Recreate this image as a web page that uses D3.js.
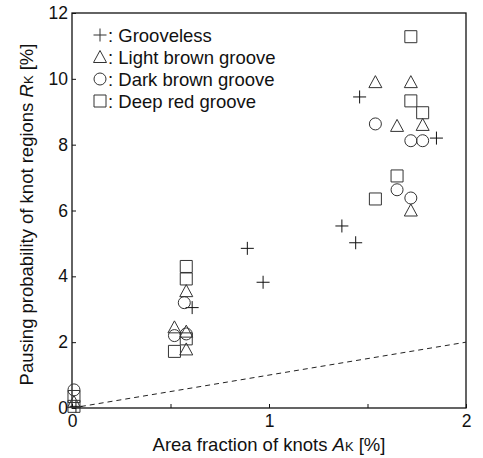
<!DOCTYPE html>
<html>
<head>
<meta charset="utf-8">
<script src="https://cdn.jsdelivr.net/npm/d3@7"></script>
<style>
  body { margin: 0; background: #fff; }
  svg { display: block; font-family: "Liberation Sans", Arial, sans-serif; }
</style>
</head>
<body>
<svg id="chart"></svg>
<script>
// data: [area fraction A_K %, pausing probability R_K %]
const grooveless = [[0.02, 0.05], [0.61, 3.05], [0.89, 4.85], [0.97, 3.82], [1.37, 5.53], [1.44, 5.02], [1.46, 9.45], [1.85, 8.2]];
const lightBrown = [[0.01, 0.18], [0.52, 2.45], [0.58, 2.32], [0.58, 1.78], [0.58, 3.55], [1.54, 9.9], [1.72, 9.9], [1.65, 8.57], [1.78, 8.6], [1.72, 6.0]];
const darkBrown = [[0.01, 0.55], [0.52, 2.2], [0.58, 2.25], [0.57, 3.2], [1.54, 8.63], [1.72, 8.12], [1.78, 8.12], [1.65, 6.63], [1.72, 6.38]];
const deepRed = [[0.01, 0.35], [0.01, 0.05], [0.52, 1.72], [0.58, 2.1], [0.58, 3.92], [0.58, 4.3], [1.72, 11.28], [1.72, 9.33], [1.78, 8.97], [1.65, 7.05], [1.54, 6.35]];
const refLine = [[0, 0], [2, 2]];

const seriesNames = ['Grooveless', 'Light brown groove', 'Dark brown groove', 'Deep red groove'];
const seriesShapes = ['plus', 'triangle', 'circle', 'square'];
const xTicks = [0, 0.5, 1, 1.5, 2];
const yTicks = [0, 2, 4, 6, 8, 10, 12];

const w = 483, h = 458;
const margin = { top: 13, right: 17, bottom: 50, left: 72 };
const ink = '#222';
const labelSize = '18.5px';

const svg = d3.select('#chart').attr('width', w).attr('height', h);

const x = d3.scaleLinear().domain([0, 2]).range([margin.left, w - margin.right]);
const y = d3.scaleLinear().domain([0, 12]).range([h - margin.bottom, margin.top]);

// marker paths, centred on 0,0
const shapePath = {
  plus: 'M-6.5,0H6.5M0,-6.5V6.5',
  triangle: 'M0,-6.5L6.5,5.5H-6.5Z',
  circle: d3.arc()({ innerRadius: 0, outerRadius: 6, startAngle: 0, endAngle: 2 * Math.PI }),
  square: 'M-6,-6H6V6H-6Z'
};

// frame
svg.append('rect')
  .attr('x', x(0)).attr('y', y(12))
  .attr('width', x(2) - x(0)).attr('height', y(0) - y(12))
  .attr('fill', 'none').attr('stroke', '#111').attr('stroke-width', 1.3);

// axes with inward ticks
const xAxis = svg.append('g')
  .attr('transform', `translate(0, ${y(0)})`)
  .call(d3.axisBottom(x).tickValues(xTicks).tickSize(-4).tickPadding(4)
    .tickFormat(d => Number.isInteger(d) ? d : ''));

const yAxis = svg.append('g')
  .attr('transform', `translate(${x(0)}, 0)`)
  .call(d3.axisLeft(y).tickValues(yTicks).tickSize(-4).tickPadding(4));

[xAxis, yAxis].forEach(g => {
  g.select('.domain').remove();
  g.selectAll('.tick line').attr('stroke', '#111');
  g.selectAll('.tick text').attr('fill', '#111').style('font-size', '17.5px')
    .style('font-family', '"Liberation Sans", Arial, sans-serif');
});
xAxis.selectAll('.tick text').attr('dy', '0.85em');

// reference line R = A
svg.append('path')
  .datum(refLine)
  .attr('d', d3.line().x(d => x(d[0])).y(d => y(d[1])))
  .attr('fill', 'none').attr('stroke', ink).attr('stroke-width', 1)
  .attr('stroke-dasharray', '5,4');

// points
const allSeries = [grooveless, lightBrown, darkBrown, deepRed];
allSeries.forEach((pts, i) => {
  svg.append('g').selectAll('path')
    .data(pts).enter().append('path')
    .attr('transform', d => `translate(${x(d[0])}, ${y(d[1])})`)
    .attr('d', shapePath[seriesShapes[i]])
    .attr('fill', 'none')
    .attr('stroke', i === 0 ? '#111' : '#333')
    .attr('stroke-width', 1);
});

// legend
const legend = svg.append('g');
seriesNames.forEach((name, i) => {
  const cy = 35 + i * 22;
  legend.append('path')
    .attr('transform', `translate(100, ${cy})`)
    .attr('d', shapePath[seriesShapes[i]])
    .attr('fill', 'none').attr('stroke', '#333').attr('stroke-width', 1);
  legend.append('text')
    .attr('x', 108).attr('y', cy + 6.5)
    .style('font-size', labelSize).attr('fill', '#111')
    .text(': ' + name);
});

// axis titles
const xt = svg.append('text')
  .attr('x', (x(0) + x(2)) / 2).attr('y', 451)
  .attr('text-anchor', 'middle').style('font-size', labelSize).attr('fill', '#111');
xt.append('tspan').text('Area fraction of knots ');
xt.append('tspan').style('font-style', 'italic').text('A');
xt.append('tspan').style('font-size', '13px').text('K');
xt.append('tspan').text(' [%]');

const yt = svg.append('text')
  .attr('transform', `translate(33, ${(y(0) + y(12)) / 2 + 4}) rotate(-90)`)
  .attr('text-anchor', 'middle').style('font-size', labelSize).attr('fill', '#111');
yt.append('tspan').text('Pausing probability of knot regions ');
yt.append('tspan').style('font-style', 'italic').text('R');
yt.append('tspan').style('font-size', '13px').text('K');
yt.append('tspan').text(' [%]');
</script>
</body>
</html>
